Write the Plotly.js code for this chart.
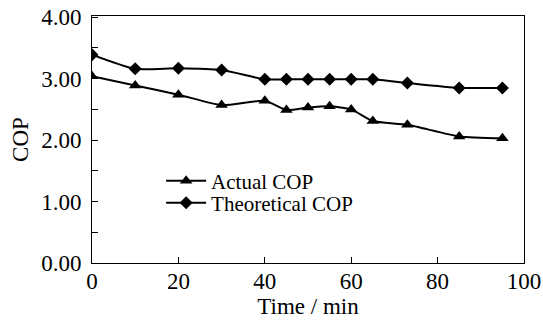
<!DOCTYPE html>
<html>
<head>
<script src="https://cdn.plot.ly/plotly-3.0.1.min.js"></script>
<style>html,body{margin:0;padding:0;background:#fff;}#chart{width:543px;height:323px;}</style>
</head>
<body>
<div id="chart"></div>
<script>
const timeMin = [0, 10, 20, 30, 40, 45, 50, 55, 60, 65, 73, 85, 95];
const actualCOP = [3.04, 2.89, 2.74, 2.57, 2.64, 2.49, 2.53, 2.55, 2.50, 2.31, 2.25, 2.06, 2.03];
const theoreticalCOP = [3.39, 3.16, 3.17, 3.14, 2.99, 2.99, 2.99, 2.99, 2.99, 2.99, 2.93, 2.85, 2.85];
const yTickVals = [0, 1, 2, 3, 4];
const yTickText = ["0.00", "1.00", "2.00", "3.00", "4.00"];

const font = "Liberation Serif, Times New Roman, serif";
const traces = [
  {x: timeMin, y: actualCOP, name: "Actual COP", mode: "lines+markers", legend: "legend",
   line: {color: "#000", width: 2, shape: "spline", smoothing: 0.6},
   marker: {symbol: "triangle-up", size: 11, color: "#000"}},
  {x: timeMin, y: theoreticalCOP, name: "Theoretical COP", mode: "lines+markers", legend: "legend2",
   line: {color: "#000", width: 2, shape: "spline", smoothing: 0.6},
   marker: {symbol: "diamond", size: 10, color: "#000"}}
];
const legendBase = {x: 0.16, xanchor: "left", yanchor: "middle", bgcolor: "rgba(0,0,0,0)",
  font: {family: font, size: 21, color: "#000"}, itemwidth: 40};
const layout = {
  width: 543, height: 323,
  margin: {l: 92, r: 19, t: 16, b: 60},
  paper_bgcolor: "#fff", plot_bgcolor: "#fff",
  font: {family: font, color: "#000", size: 23},
  showlegend: true,
  legend: Object.assign({}, legendBase, {y: 0.332}),
  legend2: Object.assign({}, legendBase, {y: 0.243}),
  xaxis: {range: [0, 100], dtick: 20, tick0: 0, ticks: "inside", ticklen: 6, tickcolor: "#000",
          showline: true, linecolor: "#000", linewidth: 1, mirror: true, showgrid: false, zeroline: false,
          ticklabelstandoff: -3, ticklabeloverflow: "allow", automargin: false,
          tickfont: {family: font, size: 23}, title: {text: "Time / min", font: {family: font, size: 23}, standoff: 4}},
  yaxis: {range: [0, 4.02], tickvals: yTickVals, ticktext: yTickText, ticks: "inside", ticklen: 6, tickcolor: "#000",
          minor: {dtick: 0.5, ticks: "inside", ticklen: 6, tickcolor: "#000", showgrid: false},
          showline: true, linecolor: "#000", linewidth: 1, mirror: true, showgrid: false, zeroline: false,
          ticklabelstandoff: 5, automargin: false,
          tickfont: {family: font, size: 23}, title: {text: "COP", font: {family: font, size: 23}, standoff: 6}}
};
Plotly.newPlot("chart", traces, layout, {displayModeBar: false, staticPlot: true});
</script>
</body>
</html>
